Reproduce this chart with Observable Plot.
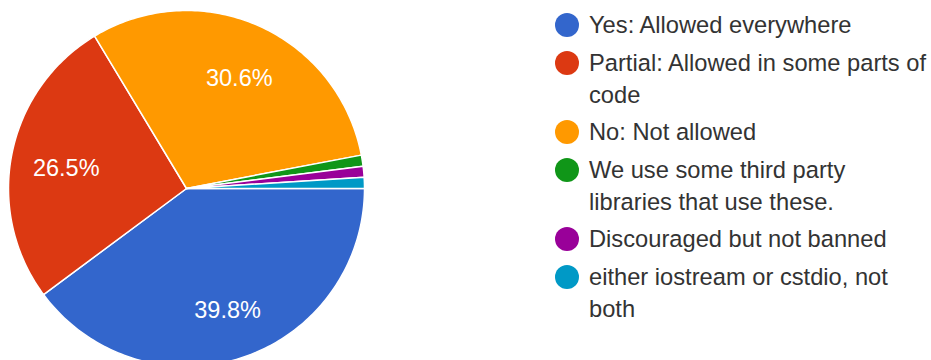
<!DOCTYPE html>
<html><head><meta charset="utf-8">
<script src="https://cdn.jsdelivr.net/npm/d3@7"></script>
<script src="https://cdn.jsdelivr.net/npm/@observablehq/plot@0.6"></script>
<style>
html,body{margin:0;padding:0;background:#fff;overflow:hidden;}
#wrap{position:relative;width:931px;height:360px;font-family:"Liberation Sans",Arial,sans-serif;}
#legend{position:absolute;left:555px;top:9px;}
.item{display:flex;align-items:flex-start;margin-bottom:5.5px;}
.sw{width:24px;height:24px;border-radius:50%;flex:none;margin-top:4px;margin-right:10px;}
.lab{font-size:23.7px;line-height:32px;color:#333;width:342px;}
</style></head>
<body><div id="wrap"><div id="chart"></div><div id="legend"></div></div>
<script>
const categories = [
  "Yes: Allowed everywhere",
  "Partial: Allowed in some parts of code",
  "No: Not allowed",
  "We use some third party libraries that use these.",
  "Discouraged but not banned",
  "either iostream or cstdio, not both"
];
const percents = [39.8, 26.5, 30.6, 1.0, 1.0, 1.0];
const colors = ["#3366cc", "#dc3912", "#ff9900", "#109618", "#990099", "#0099c6"];

const total = d3.sum(percents);
let acc = 0;
const slices = categories.map((c, i) => {
  const start = acc / total;
  acc += percents[i];
  return {c, start, end: acc / total, pct: percents[i]};
});
const pts = [];
for (const s of slices) {
  const n = Math.max(2, Math.ceil((s.end - s.start) * 360));
  pts.push({c: s.c, x: 0, y: 0});
  for (let k = 0; k <= n; k++) {
    const a = -2 * Math.PI * (s.start + (s.end - s.start) * k / n);
    pts.push({c: s.c, x: Math.cos(a), y: Math.sin(a)});
  }
}
const labelR = 0.7;
const midA = s => -2 * Math.PI * (s.start + s.end) / 2;

const chart = Plot.plot({
  width: 931,
  height: 360,
  margin: 0,
  x: {domain: [-1, 1], range: [8, 364], axis: null},
  y: {domain: [-1, 1], range: [366, 10], axis: null},
  color: {domain: categories, range: colors},
  style: {fontFamily: '"Liberation Sans", Arial, sans-serif', background: "white"},
  marks: [
    Plot.line(pts, {x: "x", y: "y", z: "c", fill: "c", stroke: "white", strokeWidth: 1.5, curve: "linear-closed"}),
    Plot.text(slices.filter(s => s.pct > 5), {
      x: s => labelR * Math.cos(midA(s)),
      y: s => labelR * Math.sin(midA(s)),
      text: s => s.pct.toFixed(1) + "%",
      fill: "white",
      fontSize: 23.5,
      dx: 2,
      dy: 4
    })
  ]
});
document.getElementById("chart").appendChild(chart);

const legend = document.getElementById("legend");
categories.forEach((c, i) => {
  const item = document.createElement("div");
  item.className = "item";
  const sw = document.createElement("div");
  sw.className = "sw";
  sw.style.background = colors[i];
  const lab = document.createElement("div");
  lab.className = "lab";
  lab.textContent = c;
  item.appendChild(sw);
  item.appendChild(lab);
  legend.appendChild(item);
});
</script>
</body></html>
